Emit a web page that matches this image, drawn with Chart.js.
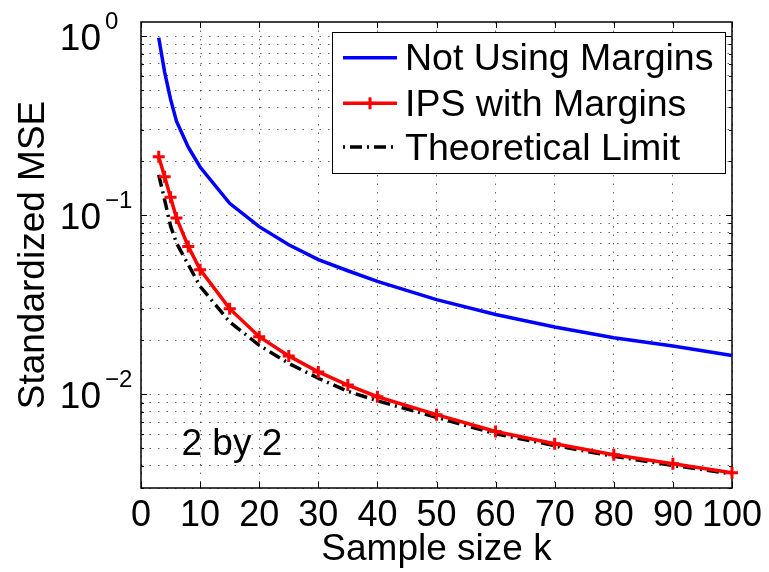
<!DOCTYPE html>
<html>
<head>
<meta charset="utf-8">
<script src="https://cdn.jsdelivr.net/npm/chart.js@4.4.1/dist/chart.umd.min.js"></script>
<style>
  html, body { margin: 0; padding: 0; background: #fff; }
  #wrap { width: 769px; height: 572px; }
</style>
</head>
<body>
<div id="wrap"><canvas id="chart-js" width="769" height="572"></canvas></div>
<script>
// sample sizes k where each curve was evaluated
const sampleSizes = [3, 4, 5, 6, 8, 10, 15, 20, 25, 30, 35, 40, 50, 60, 70, 80, 90, 100];

// standardized MSE
const notUsingMargins = [0.98, 0.63, 0.445, 0.335, 0.24, 0.186, 0.1166, 0.0864, 0.0684, 0.0565, 0.049, 0.0427, 0.0338, 0.0279, 0.0238, 0.0207, 0.0186, 0.0165];
const ipsWithMargins = [0.212, 0.164, 0.126, 0.0966, 0.067, 0.0497, 0.0301, 0.021, 0.0164, 0.01335, 0.01127, 0.0097, 0.0077, 0.0062, 0.0053, 0.0046, 0.0041, 0.00365];
const theoreticalLimit = [0.168, 0.122, 0.0872, 0.070, 0.053, 0.0401, 0.0254, 0.0188, 0.0149, 0.0123, 0.0104, 0.0092, 0.00745, 0.00602, 0.00518, 0.00451, 0.00401, 0.0036];

const seriesLabels = ['Not Using Margins', 'IPS with Margins', 'Theoretical Limit'];
const yDecades = [1, 0.1, 0.01];
const yDecadeExponents = ['0', '\u22121', '\u22122'];
const panelNote = '2 by 2';

const FONT = '"Liberation Sans", Arial, Helvetica, sans-serif';
const DOTS = [1.5, 7];
const DASHDOT = [12, 5, 2, 5];

function pts(ys) {
    return sampleSizes.map((k, i) => ({ x: k, y: ys[i] }));
}

function seg(ctx, x1, y1, x2, y2) {
    ctx.beginPath();
    ctx.moveTo(x1, y1);
    ctx.lineTo(x2, y2);
    ctx.stroke();
}

const matlabLook = {
    id: 'matlabLook',
    beforeDatasetsDraw(chart) {
        const { ctx, chartArea: a, scales: { x, y } } = chart;
        ctx.save();
        ctx.strokeStyle = '#000';
        ctx.lineWidth = 1;
        // inward ticks, all four sides
        x.ticks.forEach(t => {
            const px = Math.round(x.getPixelForValue(t.value)) + 0.5;
            seg(ctx, px, a.bottom, px, a.bottom - 6);
            seg(ctx, px, a.top, px, a.top + 6);
        });
        y.ticks.forEach(t => {
            const py = Math.round(y.getPixelForValue(t.value)) + 0.5;
            const len = yDecades.some(d => Math.abs(d - t.value) < 1e-9) ? 6 : 3;
            seg(ctx, a.left, py, a.left + len, py);
            seg(ctx, a.right, py, a.right - len, py);
        });
        ctx.lineWidth = 1.5;
        ctx.strokeRect(a.left, a.top, a.right - a.left, a.bottom - a.top);
        ctx.restore();
    },
    afterDraw(chart) {
        const { ctx, scales: { y } } = chart;
        ctx.save();
        ctx.fillStyle = '#000';
        ctx.textBaseline = 'alphabetic';

        // y tick labels as 10^n
        yDecades.forEach((d, i) => {
            const py = y.getPixelForValue(d);
            ctx.font = '37px ' + FONT;
            ctx.textAlign = 'right';
            ctx.fillText('10', 101, py + 13.5);
            ctx.font = '24px ' + FONT;
            ctx.textAlign = 'left';
            ctx.fillText(yDecadeExponents[i], 105, py + 13.5 - 21);
        });

        // panel note
        ctx.font = '37px ' + FONT;
        ctx.textAlign = 'left';
        ctx.fillText(panelNote, 181.5, 455);

        // legend box
        const bx = 332, by = 32, bw = 393, bh = 141;
        ctx.fillStyle = '#fff';
        ctx.fillRect(bx, by, bw, bh);
        ctx.strokeStyle = '#000';
        ctx.lineWidth = 1;
        ctx.strokeRect(bx + 0.5, by + 0.5, bw, bh);

        const rows = [57.7, 103.3, 147];
        const colors = ['#0000ff', '#ff0000', '#000000'];
        rows.forEach((cy, i) => {
            ctx.strokeStyle = colors[i];
            ctx.lineWidth = 3.5;
            ctx.setLineDash(i === 2 ? [2, 5, 12, 5] : []);
            seg(ctx, 343, cy, 397, cy);
            ctx.setLineDash([]);
            if (i === 1) {
                ctx.lineWidth = 3;
                seg(ctx, 370, cy - 6, 370, cy + 6);
                seg(ctx, 364, cy, 376, cy);
            }
            ctx.fillStyle = '#000';
            ctx.font = '37.5px ' + FONT;
            ctx.fillText(seriesLabels[i], 405, cy + 12.5);
        });
        ctx.restore();
    }
};

const ctx = document.getElementById('chart-js').getContext('2d');

const myChart = new Chart(ctx, {
    type: 'line',
    data: {
        datasets: [{
            label: seriesLabels[0],
            data: pts(notUsingMargins),
            borderColor: '#0000ff',
            borderWidth: 3.5,
            pointRadius: 0,
            order: 3
        }, {
            label: seriesLabels[1],
            data: pts(ipsWithMargins),
            borderColor: '#ff0000',
            borderWidth: 3.5,
            pointStyle: 'cross',
            pointRadius: 6,
            pointBorderWidth: 3,
            pointBorderColor: '#ff0000',
            order: 1
        }, {
            label: seriesLabels[2],
            data: pts(theoreticalLimit),
            borderColor: '#000000',
            borderWidth: 3.5,
            borderDash: DASHDOT,
            pointRadius: 0,
            order: 2
        }]
    },
    options: {
        responsive: false,
        animation: false,
        devicePixelRatio: 1,
        layout: { padding: { top: 22, right: 37, left: 0, bottom: 0 } },
        elements: { line: { tension: 0, fill: false } },
        datasets: { line: { clip: false } },
        plugins: {
            legend: { display: false },
            tooltip: { enabled: false }
        },
        scales: {
            x: {
                type: 'linear',
                min: 0,
                max: 100,
                afterFit(scale) { scale.height = 84; },
                ticks: {
                    stepSize: 10,
                    autoSkip: false,
                    maxRotation: 0,
                    padding: 6,
                    color: '#000',
                    font: { family: FONT, size: 36 }
                },
                grid: { color: 'rgba(0,0,0,0.6)', lineWidth: 1, drawTicks: false },
                border: { display: false, dash: DOTS },
                title: {
                    display: true,
                    text: 'Sample size k',
                    color: '#000',
                    padding: 0,
                    font: { family: FONT, size: 37 }
                }
            },
            y: {
                type: 'logarithmic',
                min: 0.003,
                max: 1.2,
                afterBuildTicks(scale) {
                    const list = [];
                    for (let e = -3; e <= 0; e++) {
                        for (let m = 1; m <= 9; m++) {
                            const v = +(m * Math.pow(10, e)).toPrecision(3);
                            if (v >= scale.min && v <= scale.max) list.push({ value: v });
                        }
                    }
                    scale.ticks = list;
                },
                afterFit(scale) { scale.width = 141; },
                ticks: { display: false },
                grid: { color: 'rgba(0,0,0,0.6)', lineWidth: 1, drawTicks: false },
                border: { display: false, dash: DOTS },
                title: {
                    display: true,
                    text: 'Standardized MSE',
                    color: '#000',
                    padding: { top: 12, bottom: 0 },
                    font: { family: FONT, size: 37 }
                }
            }
        }
    },
    plugins: [matlabLook]
});
</script>
</body>
</html>
